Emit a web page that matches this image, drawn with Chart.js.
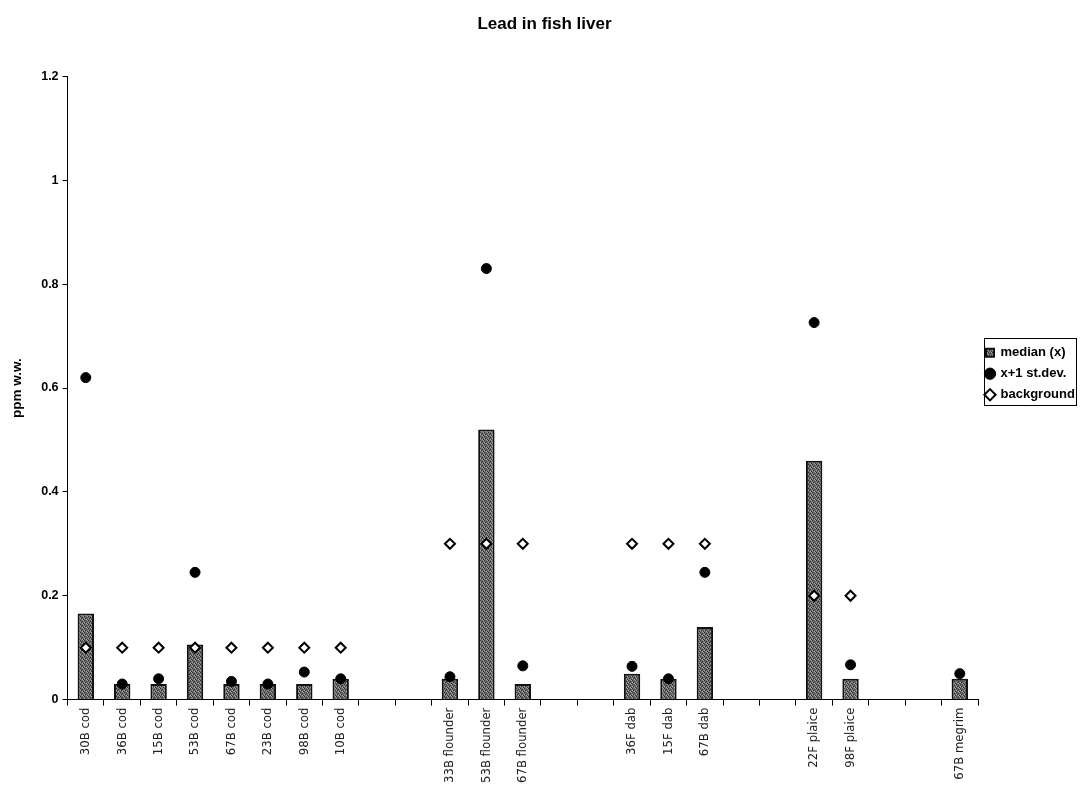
<!DOCTYPE html>
<html>
<head>
<meta charset="utf-8">
<script src="https://cdn.jsdelivr.net/npm/chart.js@4"></script>
<style>
  body { margin: 0; background: #fff; }
  #wrap { width: 1080px; height: 785px; }
</style>
</head>
<body>
<div id="wrap"><canvas id="leadChart"></canvas></div>
<script>
// Stations (empty strings are the gaps between species)
const stations = ['30B cod', '36B cod', '15B cod', '53B cod', '67B cod', '23B cod', '98B cod', '10B cod',
  '', '',
  '33B flounder', '53B flounder', '67B flounder',
  '', '',
  '36F dab', '15F dab', '67B dab',
  '', '',
  '22F plaice', '98F plaice',
  '', '',
  '67B megrim'];

const median = [0.166, 0.03, 0.03, 0.106, 0.03, 0.03, 0.03, 0.04,
  null, null,
  0.04, 0.52, 0.03,
  null, null,
  0.05, 0.04, 0.14,
  null, null,
  0.46, 0.04,
  null, null,
  0.04];

const plusSd = [0.62, 0.03, 0.04, 0.245, 0.035, 0.03, 0.053, 0.04,
  null, null,
  0.044, 0.83, 0.065,
  null, null,
  0.064, 0.04, 0.245,
  null, null,
  0.726, 0.067,
  null, null,
  0.05];

const background = [0.1, 0.1, 0.1, 0.1, 0.1, 0.1, 0.1, 0.1,
  null, null,
  0.3, 0.3, 0.3,
  null, null,
  0.3, 0.3, 0.3,
  null, null,
  0.2, 0.2,
  null, null,
  null];

const yTicks = [0, 0.2, 0.4, 0.6, 0.8, 1, 1.2];

/* speckled grey fill for the bars */
const makePattern = () => {
  const c = document.createElement('canvas');
  c.width = 4; c.height = 4;
  const g = c.getContext('2d');
  g.fillStyle = '#6c6c6c';
  g.fillRect(0, 0, 4, 4);
  g.fillStyle = '#2e2e2e';
  g.fillRect(0, 0, 1, 1);
  g.fillRect(2, 1, 1, 1);
  g.fillRect(1, 2, 1, 1);
  g.fillRect(3, 3, 1, 1);
  g.fillStyle = '#a4a4a4';
  g.fillRect(2, 3, 1, 1);
  g.fillRect(0, 2, 1, 1);
  g.fillRect(3, 0, 1, 1);
  return g.createPattern(c, 'repeat');
};
const barFill = makePattern();

/* box around the legend */
const legendBorder = {
  id: 'legendBorder',
  afterDraw(chart) {
    const l = chart.legend;
    if (!l) return;
    const ctx = chart.ctx;
    const items = l.legendHitBoxes;
    if (!items.length) return;
    const x0 = Math.min(...items.map(b => b.left)) - 2;
    const y0 = items[0].top - 8;
    const x1 = Math.max(...items.map(b => b.left + b.width)) + 1;
    const y1 = items[items.length - 1].top + items[items.length - 1].height + 4;
    ctx.save();
    ctx.strokeStyle = '#000';
    ctx.lineWidth = 1;
    ctx.strokeRect(Math.round(x0) + 0.5, Math.round(y0) + 0.5, Math.round(x1 - x0), Math.round(y1 - y0));
    ctx.restore();
  }
};

const ctx = document.getElementById('leadChart').getContext('2d');
new Chart(ctx, {
  data: {
    labels: stations,
    datasets: [{
      type: 'bar',
      label: 'median (x)',
      data: median,
      backgroundColor: barFill,
      borderColor: '#111',
      borderWidth: 2,
      barPercentage: 0.45,
      categoryPercentage: 1,
      pointStyle: 'rect',
      order: 3
    }, {
      type: 'line',
      label: 'x+1 st.dev.',
      data: plusSd,
      showLine: false,
      pointStyle: 'circle',
      pointRadius: 5,
      borderWidth: 1,
      backgroundColor: '#000',
      borderColor: '#000',
      order: 2
    }, {
      type: 'line',
      label: 'background',
      data: background,
      showLine: false,
      pointStyle: 'rectRot',
      pointRadius: 5,
      pointBorderWidth: 2,
      borderWidth: 2,
      backgroundColor: '#fff',
      borderColor: '#000',
      order: 1
    }]
  },
  options: {
    responsive: true,
    maintainAspectRatio: false,
    animation: false,
    layout: { padding: { left: 9, right: 0, top: 6, bottom: 0 } },
    plugins: {
      title: {
        display: true,
        text: 'Lead in fish liver',
        color: '#000',
        font: { family: 'Arial, "Liberation Sans"', size: 17, weight: 'bold' },
        padding: { top: 8, bottom: 42 }
      },
      legend: {
        position: 'right',
        align: 'start',
        maxWidth: 102,
        title: {
          display: true,
          text: '',
          font: { size: 1 },
          padding: { top: 331, bottom: 0 }
        },
        labels: {
          usePointStyle: true,
          boxWidth: 8,
          boxHeight: 8,
          padding: 8,
          color: '#000',
          sort: (a, b) => a.datasetIndex - b.datasetIndex,
          font: { family: 'Arial, "Liberation Sans"', size: 13, weight: 'bold' }
        }
      },
      tooltip: { enabled: false }
    },
    scales: {
      x: {
        offset: true,
        grid: {
          display: true,
          offset: true,
          drawOnChartArea: false,
          drawTicks: true,
          tickLength: 6,
          color: '#000'
        },
        border: { color: '#000', width: 1 },
        ticks: {
          autoSkip: false,
          maxRotation: 90,
          minRotation: 90,
          color: '#222',
          padding: 2,
          font: { family: '"Liberation Sans Narrow", "Arial Narrow", "DejaVu Sans Condensed", sans-serif', size: 13 }
        }
      },
      y: {
        min: 0,
        max: 1.2,
        afterBuildTicks(axis) {
          axis.ticks = yTicks.map(v => ({ value: v }));
        },
        grid: {
          display: true,
          drawOnChartArea: false,
          drawTicks: true,
          tickLength: 5,
          color: '#000'
        },
        border: { color: '#000', width: 1 },
        title: {
          display: true,
          text: 'ppm w.w.',
          color: '#000',
          font: { family: 'Arial, "Liberation Sans"', size: 13.5, weight: 'bold' },
          padding: { top: 0, bottom: 12 }
        },
        ticks: {
          color: '#000',
          padding: 4,
          font: { family: 'Arial, "Liberation Sans"', size: 12.5, weight: 'bold' },
          callback: v => String(v)
        }
      }
    }
  },
  plugins: [legendBorder]
});
</script>
</body>
</html>
